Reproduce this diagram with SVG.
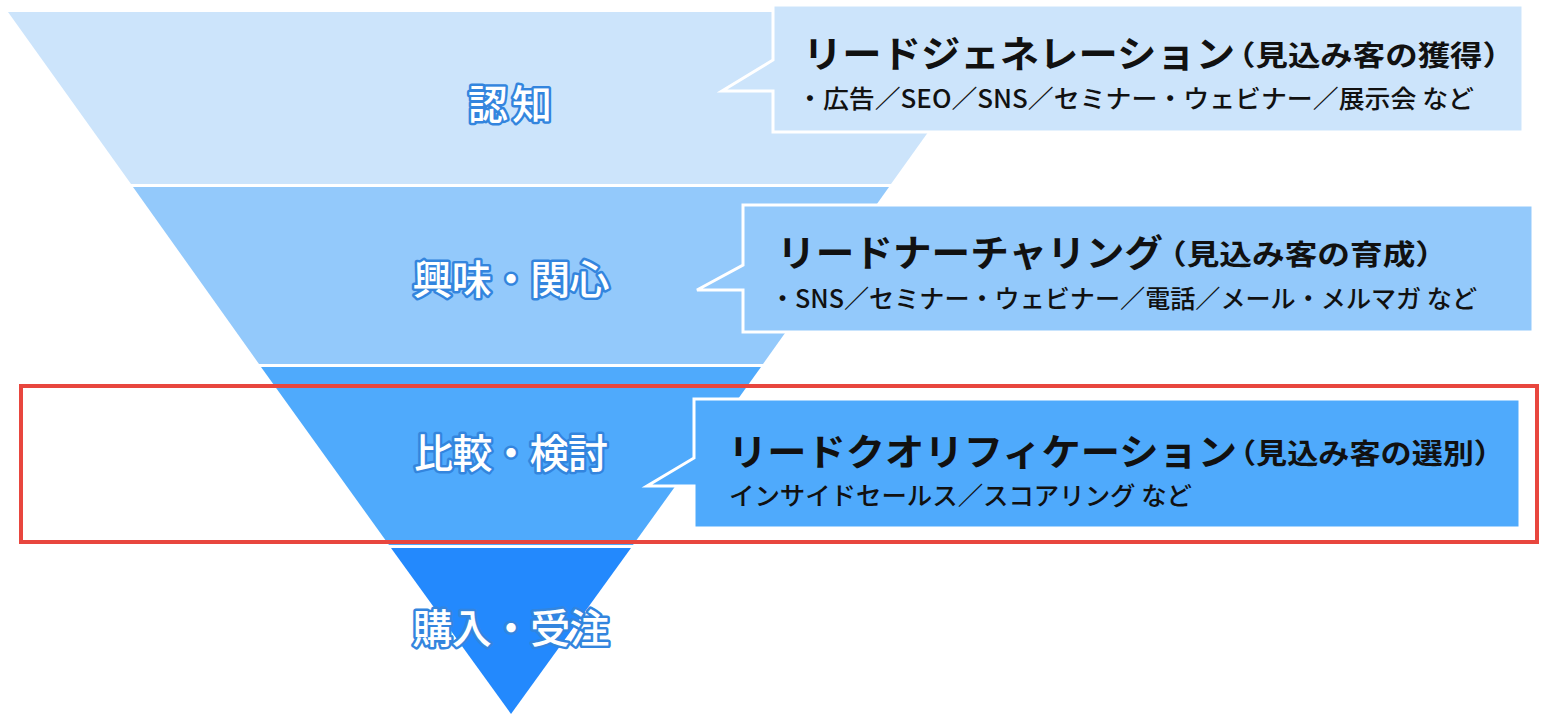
<svg xmlns="http://www.w3.org/2000/svg" width="1565" height="722" viewBox="0 0 1565 722">
  <style>
    .lbl { font-family: "Noto Sans CJK JP", "Noto Sans", sans-serif; font-size: 40px; font-weight: 500; fill: #ffffff; stroke: #3385de; stroke-width: 5px; paint-order: stroke; stroke-linejoin: round; text-anchor: middle; dominant-baseline: central; }
    .title { font-family: "Noto Sans CJK JP", "Noto Sans", sans-serif; font-size: 37px; font-weight: 700; fill: #111111; dominant-baseline: central; }
    .paren { font-family: "Noto Sans CJK JP", "Noto Sans", sans-serif; font-size: 28px; font-weight: 700; fill: #111111; dominant-baseline: central; }
    .sub { font-family: "Noto Sans CJK JP", "Noto Sans", sans-serif; font-size: 25px; font-weight: 500; fill: #111111; dominant-baseline: central; }
    .callout { stroke: #ffffff; stroke-width: 3; stroke-linejoin: miter; }
    .c1 { fill: #cce4fb; }
    .c2 { fill: #93c9fb; }
    .c3 { fill: #4faafc; }
    .c4 { fill: #2389fd; }
  </style>
  <rect x="0" y="0" width="1565" height="722" fill="#ffffff"/>

  <g id="band-awareness">
    <polygon class="c1" points="8,12 1014,12 891,184 131,184"/>
    <text class="lbl" x="510" y="102" textLength="84">認知</text>
  </g>
  <g id="band-interest">
    <polygon class="c2" points="133,187 889,187 763,364 259,364"/>
    <text class="lbl" x="511" y="277" textLength="197">興味・関心</text>
  </g>
  <g id="band-consideration">
    <polygon class="c3" points="261,367 761,367 633,545 389,545"/>
    <text class="lbl" x="511" y="451" textLength="194">比較・検討</text>
  </g>
  <g id="band-purchase">
    <polygon class="c4" points="391,548 631,548 511,714"/>
    <text class="lbl" x="511" y="626" textLength="197">購入・受注</text>
  </g>

  <g id="callout-lead-generation">
    <path class="callout c1" d="M773,5 H1523 V132 H773 V91 H722 L773,60 Z"/>
    <text class="title" x="803" y="52" textLength="432" lengthAdjust="spacingAndGlyphs">リードジェネレーション</text>
    <text class="paren" x="1223" y="54" textLength="292" lengthAdjust="spacingAndGlyphs">（見込み客の獲得）</text>
    <text class="sub" x="797" y="97" textLength="677" lengthAdjust="spacingAndGlyphs">・広告／SEO／SNS／セミナー・ウェビナー／展示会 など</text>
  </g>

  <g id="callout-lead-nurturing">
    <path class="callout c2" d="M743,205 H1533 V332 H743 V290 H697 L743,265 Z"/>
    <text class="title" x="777" y="251" textLength="386" lengthAdjust="spacingAndGlyphs">リードナーチャリング</text>
    <text class="paren" x="1154" y="253" textLength="294" lengthAdjust="spacingAndGlyphs">（見込み客の育成）</text>
    <text class="sub" x="770" y="297" textLength="707" lengthAdjust="spacingAndGlyphs">・SNS／セミナー・ウェビナー／電話／メール・メルマガ など</text>
  </g>

  <g id="callout-lead-qualification">
    <path class="callout c3" d="M694,399 H1520 V528 H694 V486 H647 L694,458 Z"/>
    <text class="title" x="728" y="450" textLength="509" lengthAdjust="spacingAndGlyphs">リードクオリフィケーション</text>
    <text class="paren" x="1225" y="452" textLength="280" lengthAdjust="spacingAndGlyphs">（見込み客の選別）</text>
    <text class="sub" x="729" y="494" textLength="463" lengthAdjust="spacingAndGlyphs">インサイドセールス／スコアリング など</text>
  </g>

  <g id="highlight">
    <rect x="21" y="386" width="1516" height="156" fill="none" stroke="#e8463e" stroke-width="4"/>
  </g>
</svg>
